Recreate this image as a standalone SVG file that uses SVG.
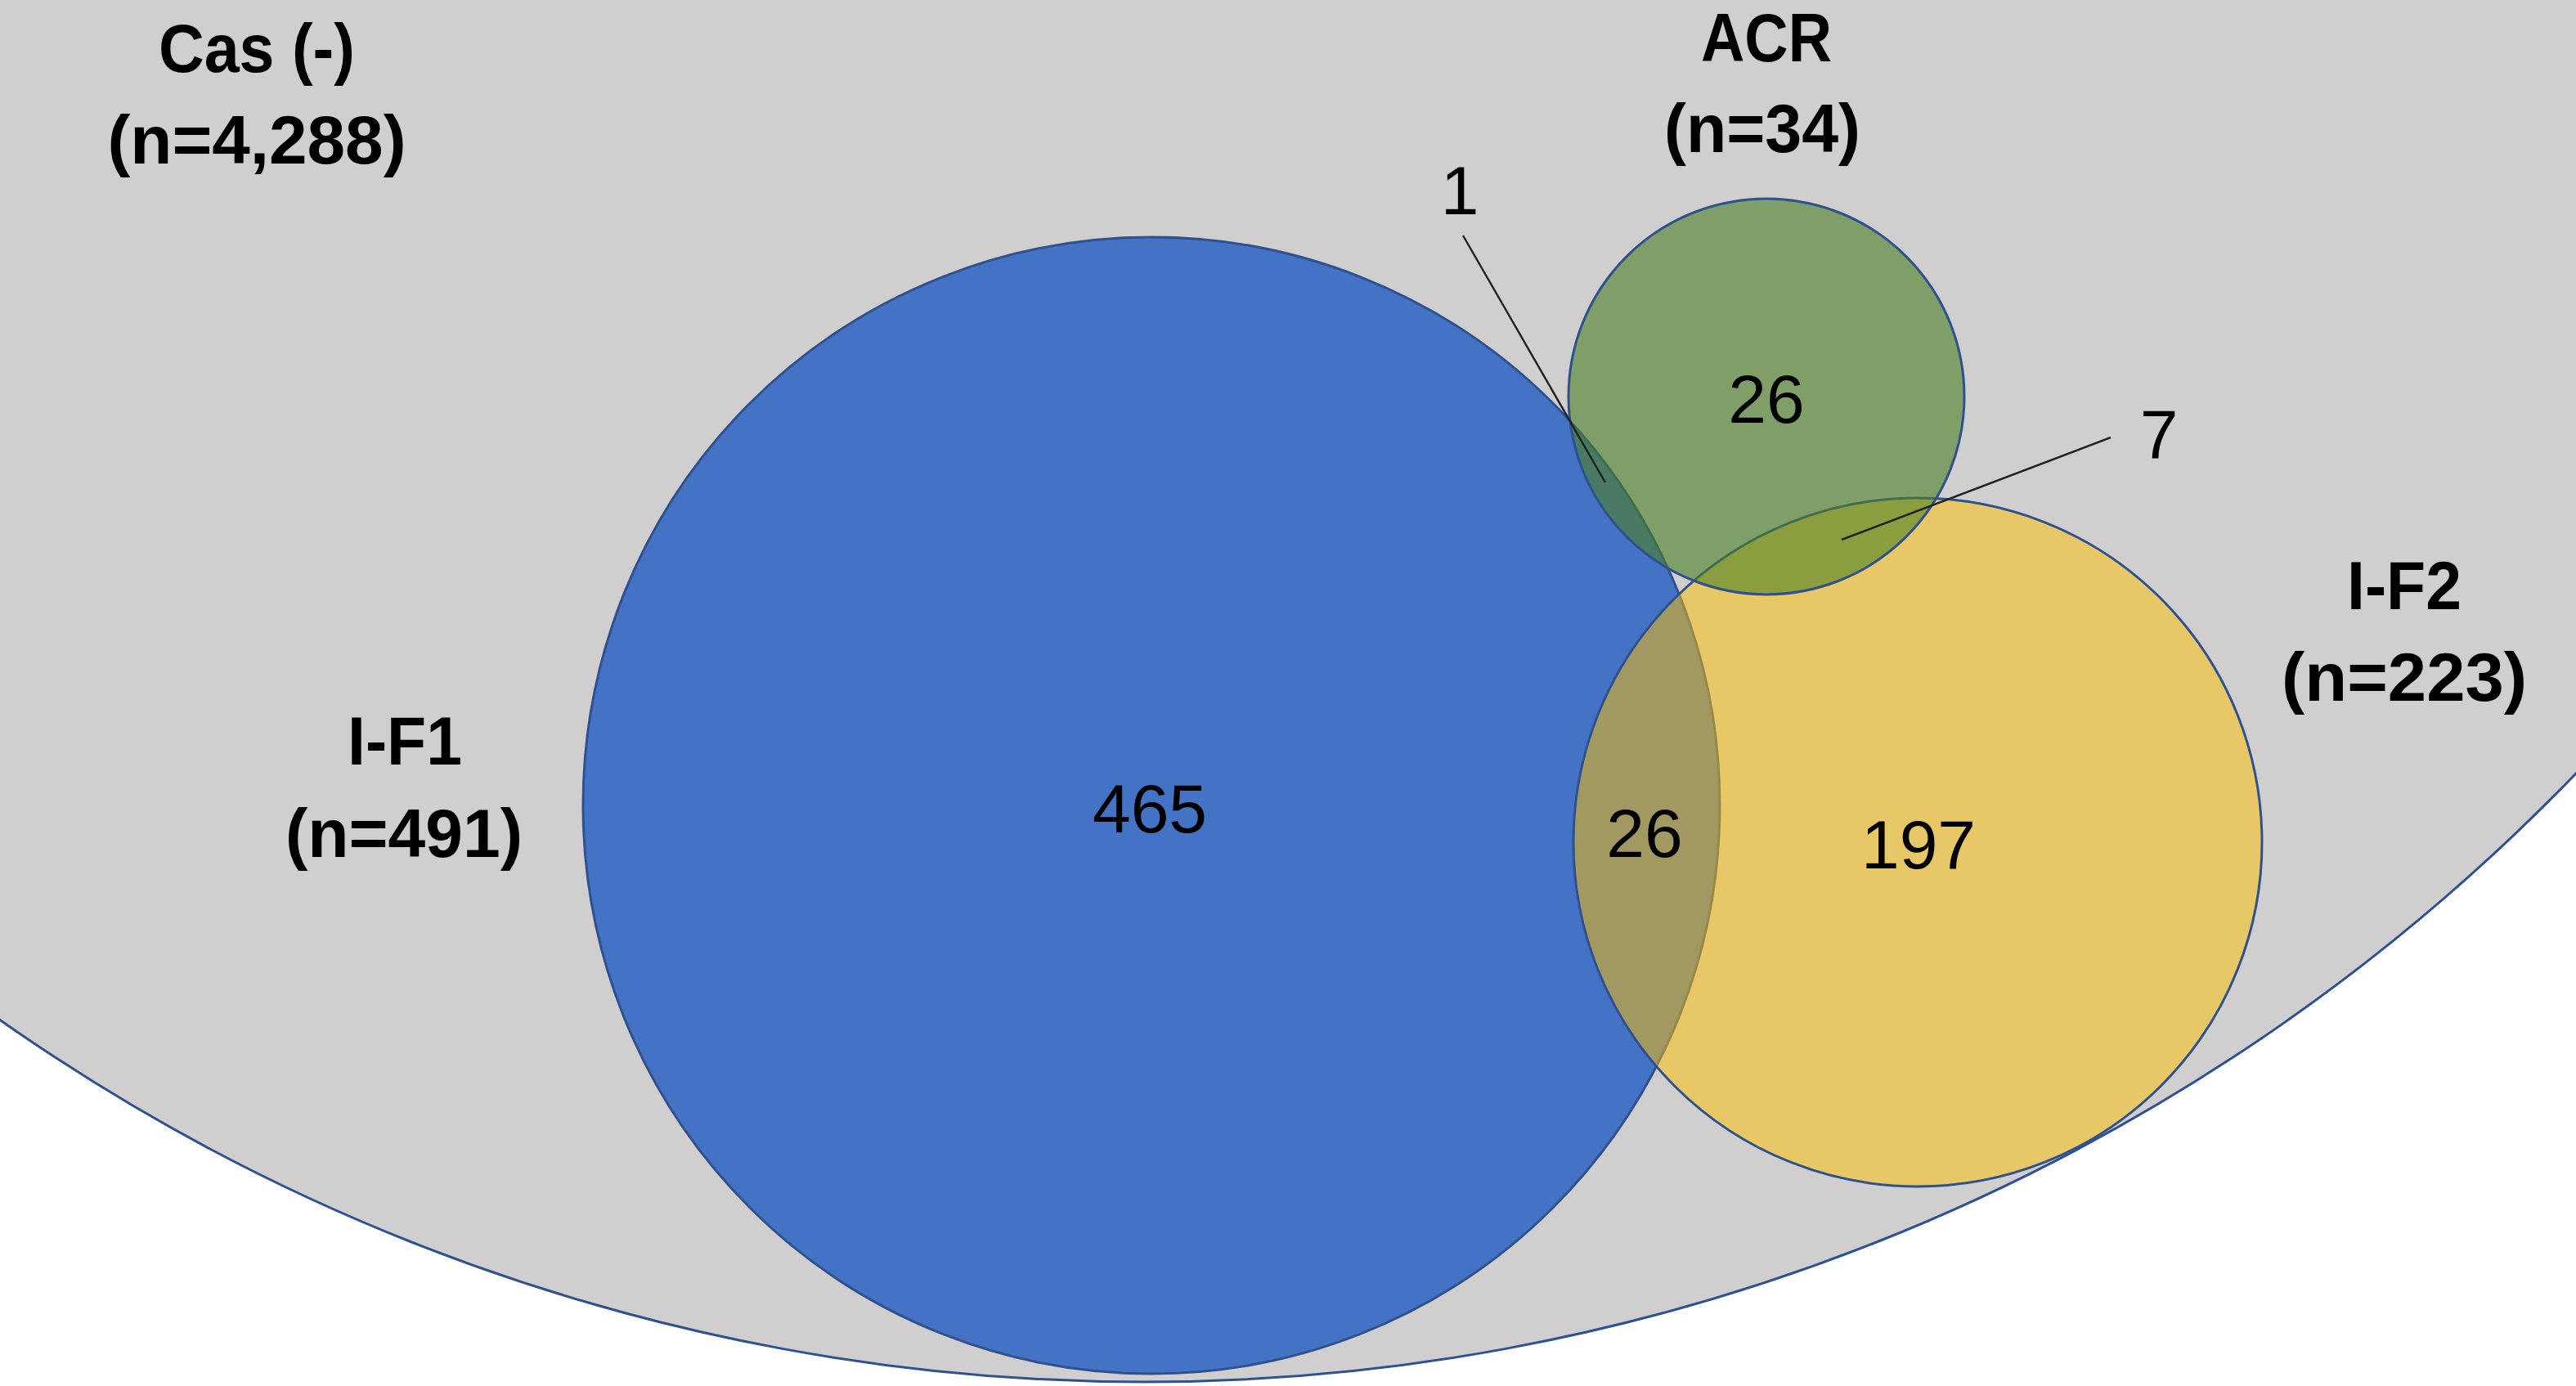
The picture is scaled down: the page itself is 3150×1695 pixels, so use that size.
<svg xmlns="http://www.w3.org/2000/svg" width="3150" height="1695" viewBox="0 0 3150 1695">
  <style>
    .set { stroke: #2F528F; stroke-width: 3; }
    .lbl { font-family: "Liberation Sans", Arial, sans-serif; font-weight: bold; font-size: 84px; fill: #000; text-anchor: middle; }
    .num { font-family: "Liberation Sans", Arial, sans-serif; font-size: 84px; fill: #000; text-anchor: middle; }
    .lead { stroke: #222; stroke-width: 2.5; fill: none; }
  </style>
  <rect x="0" y="0" width="3150" height="1695" fill="#FFFFFF"/>
  <g id="cas-neg">
    <circle class="set" cx="1399" cy="-742" r="2432" fill="#D0CECE"/>
    <text class="lbl" x="314" y="88" textLength="240" lengthAdjust="spacingAndGlyphs">Cas (-)</text>
    <text class="lbl" x="314" y="200" textLength="365" lengthAdjust="spacingAndGlyphs">(n=4,288)</text>
  </g>
  <g id="i-f1">
    <circle class="set" cx="1408" cy="985" r="695" fill="#4472C4"/>
    <text class="lbl" x="495" y="935" textLength="140" lengthAdjust="spacingAndGlyphs">I-F1</text>
    <text class="lbl" x="494" y="1048" textLength="290" lengthAdjust="spacingAndGlyphs">(n=491)</text>
  </g>
  <g id="i-f2">
    <circle class="set" cx="2345" cy="1030" r="421" fill="#FFC000" fill-opacity="0.5"/>
    <text class="lbl" x="2940" y="745" textLength="140" lengthAdjust="spacingAndGlyphs">I-F2</text>
    <text class="lbl" x="2940" y="857" textLength="300" lengthAdjust="spacingAndGlyphs">(n=223)</text>
  </g>
  <g id="acr">
    <circle class="set" cx="2160" cy="485" r="242" fill="#4B8124" fill-opacity="0.6"/>
    <text class="lbl" x="2160" y="75" textLength="160" lengthAdjust="spacingAndGlyphs">ACR</text>
    <text class="lbl" x="2155" y="186" textLength="240" lengthAdjust="spacingAndGlyphs">(n=34)</text>
  </g>
  <g id="counts">
    <text class="num" x="1406" y="1018">465</text>
    <text class="num" x="2160" y="517">26</text>
    <text class="num" x="2011" y="1048">26</text>
    <text class="num" x="2346" y="1062">197</text>
    <text class="num" x="1785" y="262">1</text>
    <text class="num" x="2640" y="560">7</text>
  </g>
  <g id="connectors">
    <line class="lead" x1="1789" y1="288" x2="1963" y2="590"/>
    <line class="lead" x1="2581" y1="535" x2="2252" y2="660"/>
  </g>
</svg>
